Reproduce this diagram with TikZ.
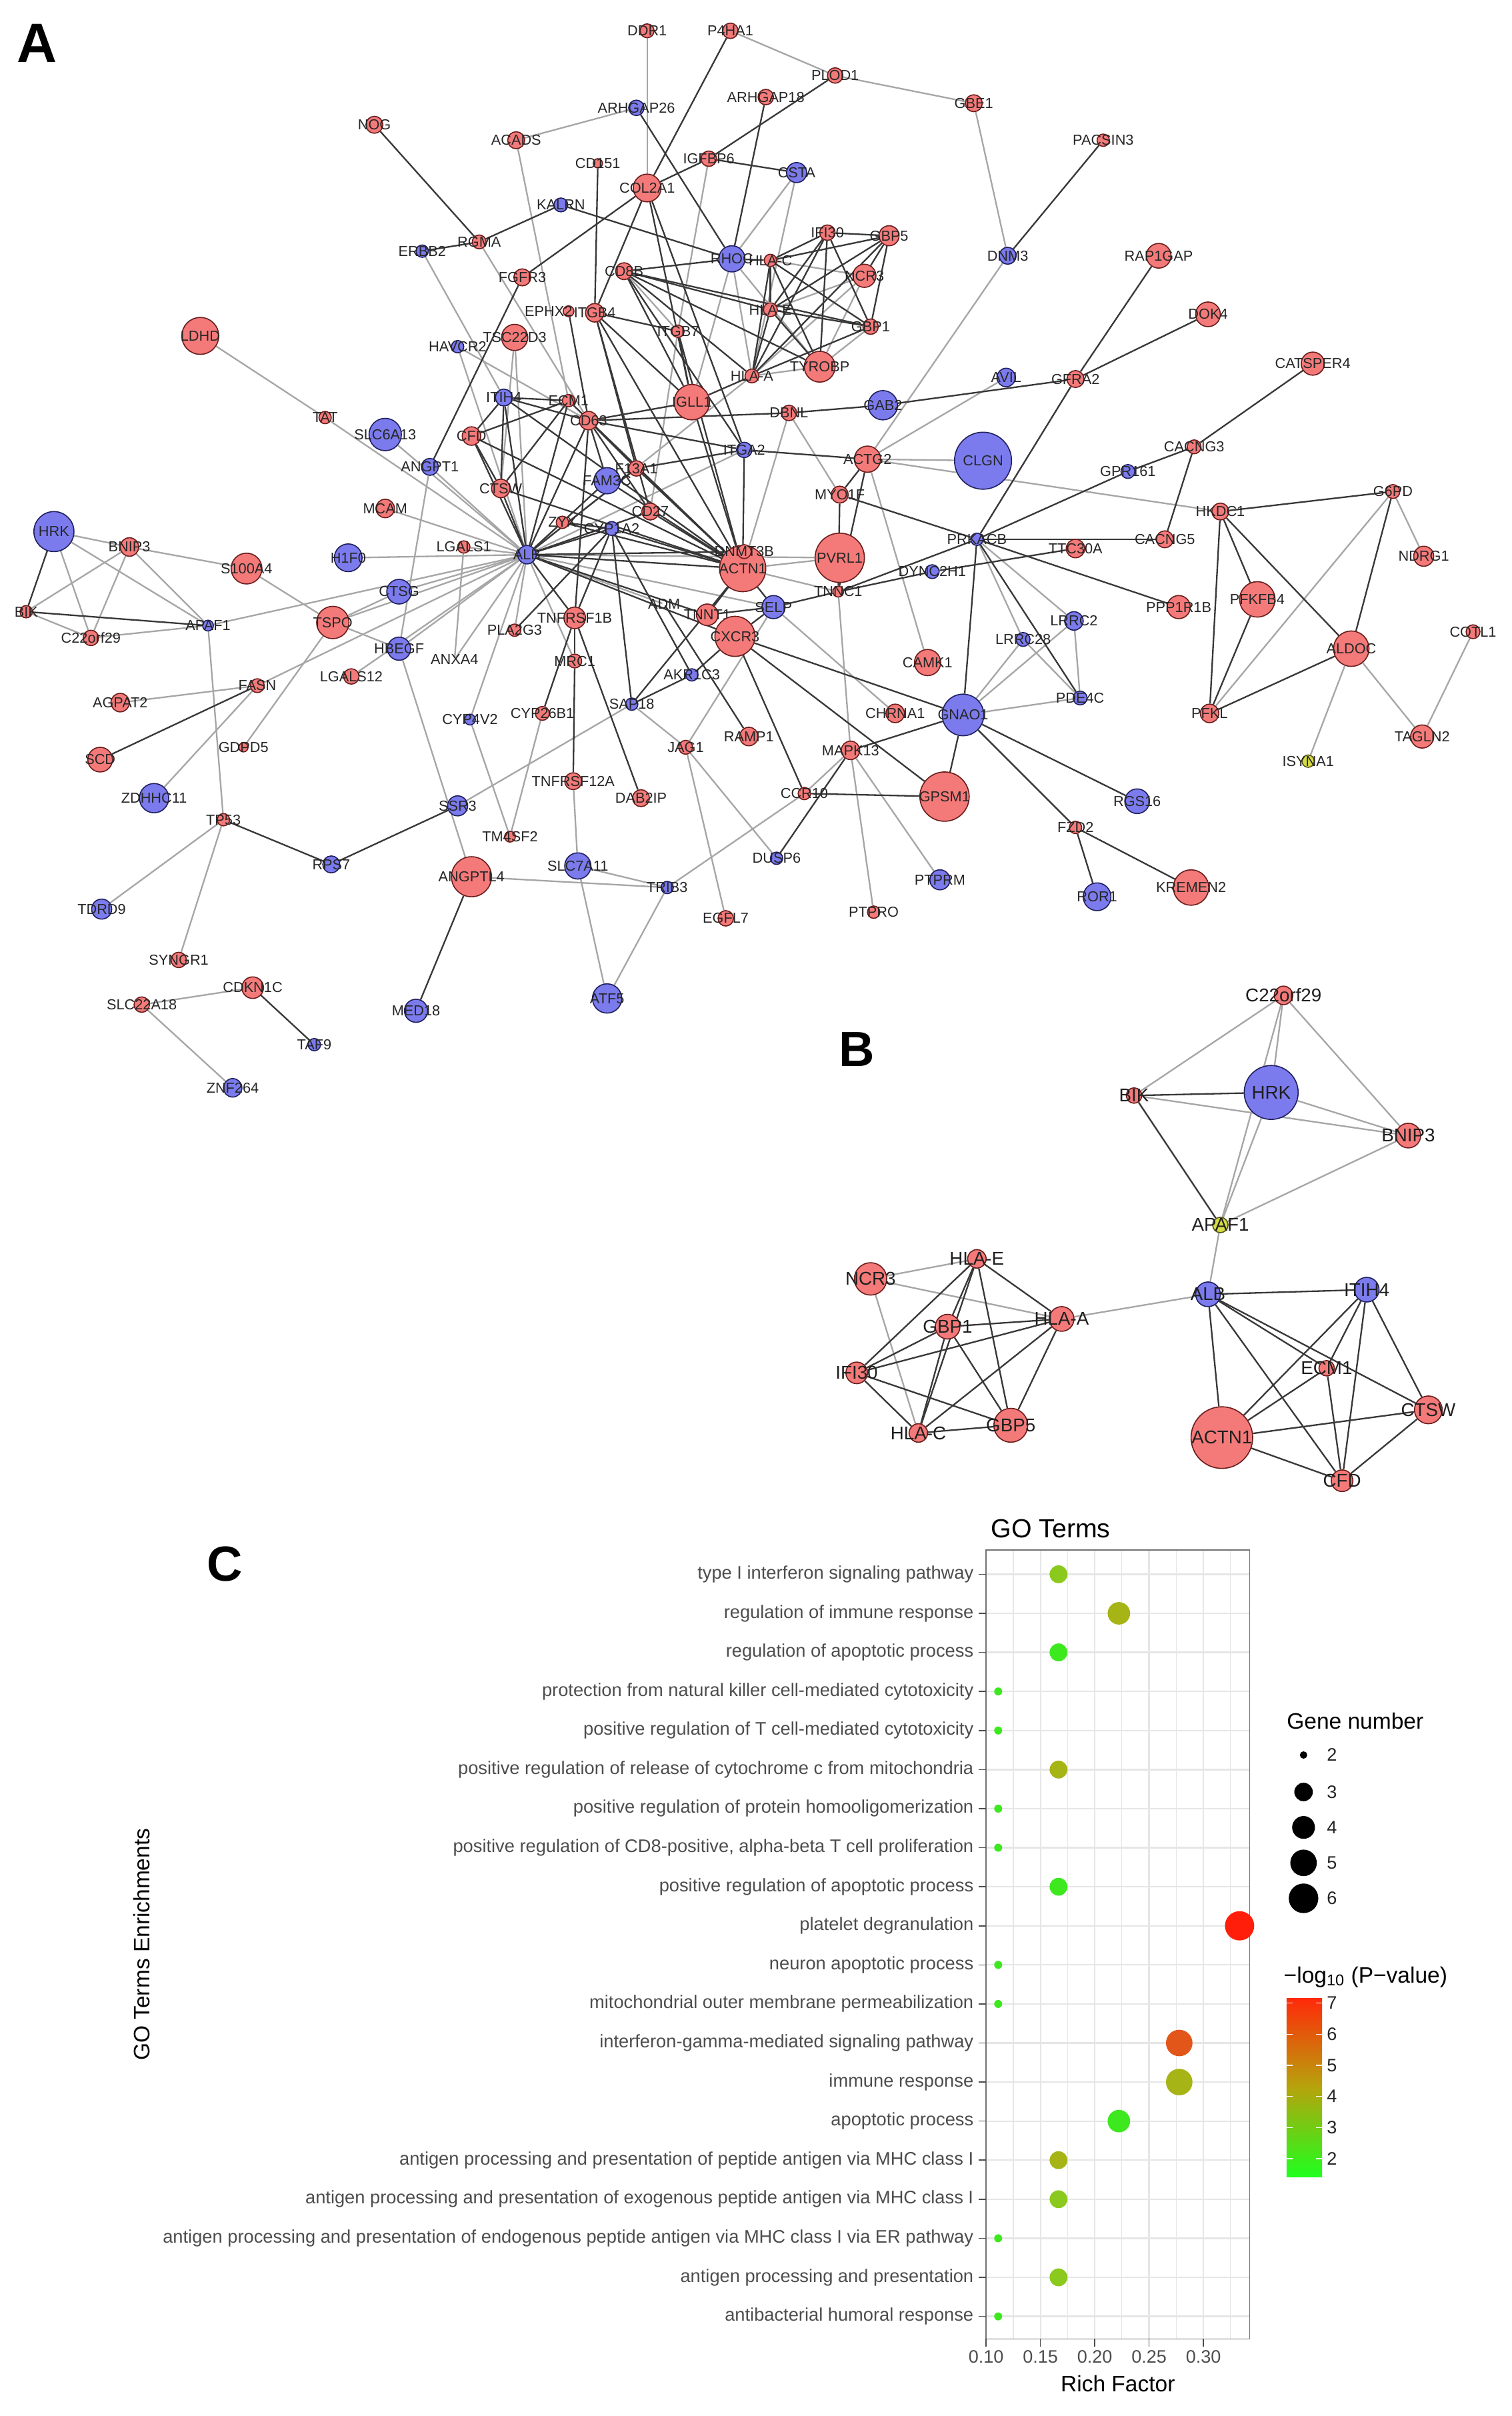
\documentclass[tikz,border=0pt]{standalone}
\usepackage{fontspec}
\setmainfont{Liberation Sans}
\usepackage{tikz}
\definecolor{genered}{HTML}{F47A7A}
\definecolor{generedline}{HTML}{6B1D1D}
\definecolor{geneblue}{HTML}{7B7BEE}
\definecolor{genebluel}{HTML}{20205E}
\definecolor{geneyellow}{HTML}{D6DC44}
\definecolor{geneyellowline}{HTML}{55551A}
\definecolor{edgedark}{HTML}{383838}
\definecolor{edgelight}{HTML}{A6A6A6}
\definecolor{gridgray}{HTML}{E6E6E6}
\definecolor{axisgray}{HTML}{4D4D4D}
\definecolor{pv2}{HTML}{3DE81F}
\definecolor{pv3}{HTML}{8CC91E}
\definecolor{pv4}{HTML}{A6B416}
\definecolor{pv6}{HTML}{E2561A}
\definecolor{pv7}{HTML}{FF1E0A}
\definecolor{barlow}{HTML}{1EFF1E}
\definecolor{barmid}{HTML}{B5A40C}
\definecolor{barhigh}{HTML}{FF2A0A}
\pgfdeclarelayer{edges}
\pgfsetlayers{edges,main}

\begin{document}
\begin{tikzpicture}[x=1pt, y=-1pt,
    gene/.style={circle, inner sep=0pt, line width=0.7pt},
    redgene/.style={gene, draw=generedline, fill=genered},
    bluegene/.style={gene, draw=genebluel, fill=geneblue},
    yellowgene/.style={gene, draw=geneyellowline, fill=geneyellow},
    hidgene/.style={circle, inner sep=0pt},
    genelabel/.style={font=\fontsize{9.4}{10}\selectfont, text=black!85, inner sep=0pt},
    bgenelabel/.style={font=\fontsize{12}{13}\selectfont, text=black!88, inner sep=0pt},
    darkedge/.style={draw=edgedark, line width=1pt},
    lightedge/.style={draw=edgelight, line width=1pt},
    panelletter/.style={font=\bfseries\fontsize{36}{40}\selectfont, inner sep=0pt},
    termlabel/.style={font=\fontsize{11.8}{13}\selectfont, text=axisgray, inner sep=0pt},
    ticklabel/.style={font=\fontsize{11.7}{13}\selectfont, text=axisgray, inner sep=0pt},
    axistitle/.style={font=\fontsize{14.5}{16}\selectfont, inner sep=0pt},
    gridmajor/.style={draw=gridgray, line width=1pt},
    gridminor/.style={draw=gridgray, line width=0.5pt},
]
\useasboundingbox (0,0) rectangle (981,1568);

% ---------------- panel A: network ----------------
\node[panelletter] (letterA) at (24,28) {A};
\foreach \gid/\gx/\gy/\gd/\gs/\glab in {
  ddr1/420/20/9/redgene/DDR1, p4ha1/474/20/10/redgene/P4HA1, plod1/542/49/10/redgene/PLOD1,
  gbe1/632/67/11/redgene/GBE1, pacsin3/716/91/8/redgene/PACSIN3, arhgap26/413/70/10/bluegene/ARHGAP26,
  arhgap18/497/63/10/redgene/ARHGAP18, nog/243/81/11/redgene/NOG, acads/335/91/11/redgene/ACADS,
  cd151/388/106/6/redgene/CD151, igfbp6/460/103/10/redgene/IGFBP6, csta/517/112/13/bluegene/CSTA,
  col2a1/420/122/18/redgene/COL2A1, kalrn/364/133/9/bluegene/KALRN, rgma/311/157/9/redgene/RGMA,
  erbb2/274/163/8/bluegene/ERBB2, fgfr3/339/180/11/redgene/FGFR3, rhoc/475/168/17/bluegene/RHOC,
  hlac/500/169/8/redgene/HLA-C, ifi30/537/151/10/redgene/IFI30, gbp5/577/153/13/redgene/GBP5,
  ncr3/561/179/15/redgene/NCR3, cd8b/405/176/11/redgene/CD8B,
  itgb4/386/203/12/redgene/ITGB4, hlae/500/201/9/redgene/HLA-E, gbp1/565/212/10/redgene/GBP1,
  itgb7/440/215/8/redgene/ITGB7, tsc22d3/334/219/17/redgene/TSC22D3, havcr2/297/225/8/bluegene/HAVCR2,
  tyrobp/532/238/20/redgene/TYROBP, hlaa/488/244/9/redgene/HLA-A, itih4/327/258/11/bluegene/ITIH4,
  ecm1/369/260/8/redgene/ECM1, igll1/449/261/23/redgene/IGLL1, gab2/573/263/19/bluegene/GAB2,
  dbnl/512/268/10/redgene/DBNL, cd63/382/273/12/redgene/CD63, cfd/306/283/12/redgene/CFD,
  ctsw/325/317/12/redgene/CTSW, fam3c/394/312/17/bluegene/FAM3C, f13a1/413/304/10/redgene/F13A1,
  cd27/422/332/11/redgene/CD27, zyx/365/339/8/redgene/ZYX, cyp1a2/397/343/9/bluegene/CYP1A2,
  itga2/483/292/10/bluegene/ITGA2, alb/342/360/12/bluegene/ALB, actn1/482/369/30/redgene/ACTN1,
  dnmt3b/483/358/9/redgene/DNMT3B, pvrl1/545/362/32/redgene/PVRL1, myo1f/545/321/11/redgene/MYO1F,
  actg2/563/298/17/redgene/ACTG2, tnnc1/544/384/7/redgene/TNNC1, selp/502/394/15/bluegene/SELP,
  tnnt1/459/399/14/redgene/TNNT1, cxcr3/477/413/26/redgene/CXCR3, tnfrsf1b/373/401/14/redgene/TNFRSF1B,
  pla2g3/334/409/8/redgene/PLA2G3, mrc1/373/429/9/redgene/MRC1, anxa4/295/428/2/hidgene/ANXA4,
  akr1c3/449/438/8/bluegene/AKR1C3, adm/431/392/2/hidgene/ADM, ldhd/130/218/24/redgene/LDHD,
  tat/211/271/8/redgene/TAT, slc6a13/250/282/21/bluegene/SLC6A13, angpt1/279/303/11/bluegene/ANGPT1,
  mcam/250/330/12/redgene/MCAM, hrk/35/345/26/bluegene/HRK, bnip3/84/355/12/redgene/BNIP3,
  lgals1/301/355/8/redgene/LGALS1, h1f0/226/362/18/bluegene/H1F0, s100a4/160/369/20/redgene/S100A4,
  ctsg/259/384/16/bluegene/CTSG, bik/17/397/8/redgene/BIK, apaf1/135/406/7/bluegene/APAF1,
  tspo/216/404/21/redgene/TSPO, c22orf29/59/414/10/redgene/C22orf29, hbegf/259/421/15/bluegene/HBEGF,
  lgals12/228/439/10/redgene/LGALS12, fasn/167/445/9/redgene/FASN, agpat2/78/456/12/redgene/AGPAT2,
  cyp4v2/305/467/7/bluegene/CYP4V2, gdpd5/158/485/6/redgene/GDPD5, scd/65/493/16/redgene/SCD,
  zdhhc11/100/518/19/bluegene/ZDHHC11, tp53/145/532/8/redgene/TP53, ssr3/297/523/13/bluegene/SSR3,
  sap18/410/457/8/bluegene/SAP18, cyp26b1/352/463/9/redgene/CYP26B1, chrna1/581/463/12/redgene/CHRNA1,
  ramp1/486/478/12/redgene/RAMP1, jag1/445/485/9/redgene/JAG1, mapk13/552/487/12/redgene/MAPK13,
  tnfrsf12a/372/507/11/redgene/TNFRSF12A, dab2ip/416/518/11/redgene/DAB2IP, ccr10/522/515/8/redgene/CCR10,
  tm4sf2/331/543/7/redgene/TM4SF2, dusp6/504/557/8/bluegene/DUSP6, angptl4/306/569/26/redgene/ANGPTL4,
  slc7a11/375/562/17/bluegene/SLC7A11, trib3/433/576/8/bluegene/TRIB3, egfl7/471/596/10/redgene/EGFL7,
  ptpro/567/592/8/redgene/PTPRO, rps7/215/561/11/bluegene/RPS7, tdrd9/66/590/13/bluegene/TDRD9,
  syngr1/116/623/10/redgene/SYNGR1, cdkn1c/164/641/14/redgene/CDKN1C, slc22a18/92/652/10/redgene/SLC22A18,
  med18/270/656/15/bluegene/MED18, atf5/394/648/19/bluegene/ATF5, taf9/204/678/8/bluegene/TAF9,
  znf264/151/706/12/bluegene/ZNF264, dnm3/654/166/11/bluegene/DNM3, rap1gap/752/166/16/redgene/RAP1GAP,
  dok4/784/204/16/redgene/DOK4, catsper4/852/236/15/redgene/CATSPER4, avil/653/245/12/bluegene/AVIL,
  gfra2/698/246/11/redgene/GFRA2, cacng3/775/290/9/redgene/CACNG3, clgn/638/299/37/bluegene/CLGN,
  gpr161/732/306/9/bluegene/GPR161, g6pd/904/319/9/redgene/G6PD, hkdc1/792/332/11/redgene/HKDC1,
  prkacb/634/350/8/bluegene/PRKACB, cacng5/756/350/11/redgene/CACNG5, ttc30a/698/356/12/redgene/TTC30A,
  ndrg1/924/361/13/redgene/NDRG1, dync2h1/605/371/9/bluegene/DYNC2H1, pfkfb4/816/389/23/redgene/PFKFB4,
  ppp1r1b/765/394/15/redgene/PPP1R1B, lrrc2/697/403/12/bluegene/LRRC2, lrrc28/664/415/9/bluegene/LRRC28,
  cotl1/956/410/9/redgene/COTL1, aldoc/877/421/23/redgene/ALDOC, camk1/602/430/17/redgene/CAMK1,
  pde4c/701/453/9/bluegene/PDE4C, pfkl/785/463/12/redgene/PFKL, gnao1/625/464/27/bluegene/GNAO1,
  tagln2/923/478/15/redgene/TAGLN2, isyna1/849/494/8/yellowgene/ISYNA1, gpsm1/613/517/32/redgene/GPSM1,
  rgs16/738/520/16/bluegene/RGS16, fzd2/698/537/8/redgene/FZD2, ptprm/610/571/13/bluegene/PTPRM,
  ror1/712/582/18/bluegene/ROR1, kremen2/773/576/23/redgene/KREMEN2}
  \node[\gs, minimum size=\gd pt, label={[genelabel]center:\glab}] (\gid) at (\gx,\gy) {};
% EPHX2 sits right beside ITGB4: its label is nudged left
\node[redgene, minimum size=7pt, label={[genelabel, xshift=-13pt]center:EPHX2}] (ephx2) at (369,202) {};

% ---------------- panel B: sub-network ----------------
\node[panelletter, font=\bfseries\fontsize{32}{36}\selectfont] (letterB) at (556,681) {B};
\foreach \gid/\gx/\gy/\gd/\gs/\glab in {
  bc22/833/646/12/redgene/C22orf29, bbik/736/711/10/redgene/BIK, bhrk/825/709/35/bluegene/HRK,
  bbnip3/914/737/16/redgene/BNIP3, bapaf1/792/795/10/yellowgene/APAF1, bhlae/634/817/12/redgene/HLA-E,
  bncr3/565/830/21/redgene/NCR3, balb/784/840/16/bluegene/ALB, bitih4/887/837/16/bluegene/ITIH4,
  bhlaa/689/856/16/redgene/HLA-A, bgbp1/615/861/16/redgene/GBP1, bifi30/556/891/14/redgene/IFI30,
  becm1/861/888/10/redgene/ECM1, bctsw/927/915/18/redgene/CTSW, bhlac/596/930/12/redgene/HLA-C,
  bgbp5/656/925/22/redgene/GBP5, bactn1/793/933/40/redgene/ACTN1, bcfd/871/961/14/redgene/CFD}
  \node[\gs, minimum size=\gd pt, label={[bgenelabel]center:\glab}] (\gid) at (\gx,\gy) {};

% connectors, kept under the nodes
\begin{pgfonlayer}{edges}
\fill[white] (0,0) rectangle (981,1568);
\foreach \ea/\eb in {
  ddr1/col2a1, arhgap26/acads, p4ha1/plod1, plod1/gbe1, gbe1/dnm3, dnm3/actg2, igfbp6/itgb7,
  csta/rhoc, csta/hlaa, acads/ecm1, erbb2/itih4, havcr2/cd63, havcr2/alb, ldhd/tat, tat/alb,
  slc6a13/alb, angpt1/hbegf, angpt1/alb, tsc22d3/alb, tsc22d3/ctsw, rgma/cd63,
  rhoc/igll1, rhoc/tyrobp, rhoc/hlaa, cd8b/itgb7, hlac/ncr3, ncr3/hlae, ncr3/hlaa, ncr3/tyrobp,
  gbp1/tyrobp, hlaa/tyrobp, hlaa/alb, itgb7/cd27,
  hrk/bnip3, hrk/c22orf29, hrk/apaf1, bnip3/bik, bnip3/c22orf29, bnip3/apaf1, bnip3/s100a4,
  bik/c22orf29, c22orf29/apaf1, apaf1/alb, apaf1/tp53, s100a4/tspo, tspo/ctsg, tspo/hbegf,
  tspo/gdpd5, tspo/alb, ctsg/alb, h1f0/alb, mcam/alb, lgals1/alb, lgals1/anxa4, anxa4/alb,
  lgals12/alb, hbegf/alb, fasn/agpat2, fasn/zdhhc11, fasn/alb, cyp4v2/alb, pla2g3/alb, mrc1/alb,
  zyx/alb, alb/pvrl1, alb/selp, alb/adm, alb/itga2, hbegf/angptl4, ssr3/sap18, tp53/tdrd9,
  tp53/syngr1, cyp26b1/tm4sf2, cyp4v2/tm4sf2, sap18/jag1, jag1/egfl7, jag1/dusp6, jag1/selp,
  ccr10/trib3, mapk13/ccr10, mapk13/ptpro, mapk13/ptprm, mapk13/tnnc1, chrna1/selp,
  slc7a11/tnfrsf12a, slc7a11/trib3, angptl4/trib3, slc7a11/atf5, trib3/atf5,
  actn1/pvrl1, actn1/tnnc1, dbnl/myo1f, dbnl/actn1, actg2/clgn, actg2/hkdc1, actg2/avil,
  actg2/camk1, prkacb/lrrc2, prkacb/lrrc28, gnao1/lrrc28, gnao1/lrrc2, gnao1/pde4c,
  lrrc2/pde4c, lrrc28/pde4c, g6pd/ndrg1, g6pd/pfkl, aldoc/isyna1, aldoc/tagln2, tagln2/cotl1,
  cdkn1c/slc22a18, slc22a18/znf264,
  bc22/bbik, bc22/bhrk, bc22/bbnip3, bc22/bapaf1, bbik/bbnip3, bhrk/bbnip3, bhrk/bapaf1,
  bbnip3/bapaf1, bapaf1/balb, balb/bhlaa, bncr3/bhlae, bncr3/bhlaa, bncr3/bhlac}
  \draw[lightedge] (\ea) -- (\eb);
\foreach \ea/\eb in {
  arhgap26/rhoc, p4ha1/col2a1, plod1/igfbp6, igfbp6/col2a1, igfbp6/csta, arhgap18/rhoc,
  pacsin3/dnm3, nog/rgma, erbb2/rgma, rgma/kalrn, kalrn/rhoc, cd151/itgb4, col2a1/fgfr3,
  col2a1/itgb4, col2a1/igll1, col2a1/itga2, fgfr3/angpt1, rhoc/cd8b, rhoc/hlac, cd8b/hlae,
  cd8b/gbp1, cd8b/igll1, cd8b/hlaa, cd8b/itga2, cd8b/tyrobp,
  hlac/ifi30, hlac/gbp5, hlac/hlae, hlac/gbp1, hlac/hlaa, hlac/tyrobp,
  ifi30/gbp5, ifi30/hlae, ifi30/hlaa, ifi30/gbp1, ifi30/tyrobp,
  gbp5/hlae, gbp5/hlaa, gbp5/gbp1, gbp5/ncr3, hlae/hlaa, hlae/gbp1, hlae/tyrobp, gbp1/hlaa,
  hlaa/igll1, itgb4/itgb7, itgb4/igll1, itgb4/actn1, itgb4/cd27, itgb4/f13a1, ephx2/cd63,
  itgb7/igll1, itgb7/actn1,
  itih4/ecm1, itih4/cfd, itih4/ctsw, itih4/alb, itih4/actn1, itih4/cd63,
  ecm1/cfd, ecm1/ctsw, ecm1/alb, ecm1/actn1, cfd/ctsw, cfd/alb, cfd/actn1, ctsw/alb, ctsw/actn1,
  cd63/dbnl, cd63/igll1, cd63/f13a1, cd63/fam3c, cd63/cd27, cd63/alb, cd63/actn1, cd63/tnfrsf1b,
  dbnl/gab2, itga2/f13a1, itga2/actn1, itga2/actg2, itga2/cd63,
  f13a1/alb, f13a1/actn1, fam3c/alb, fam3c/actn1, cd27/actn1, cd27/alb,
  zyx/cyp1a2, zyx/actn1, cyp1a2/alb, cyp1a2/actn1, cyp1a2/tnfrsf1b, cyp1a2/pla2g3,
  cyp1a2/akr1c3, cyp1a2/sap18, alb/actn1, alb/dnmt3b, alb/tnfrsf1b, alb/cxcr3, alb/tnnt1,
  actn1/dnmt3b, actn1/tnnt1, actn1/selp, igll1/actn1,
  tnnc1/selp, tnnc1/dync2h1, tnnc1/actg2, tnnc1/prkacb, tnnc1/myo1f,
  selp/cxcr3, selp/tnnt1, cxcr3/gnao1, cxcr3/gpsm1, cxcr3/ccr10, cxcr3/akr1c3,
  myo1f/prkacb, myo1f/actg2, cyp26b1/tnfrsf1b, tnfrsf1b/mrc1, mrc1/tnfrsf12a,
  dab2ip/tnfrsf1b, sap18/akr1c3, sap18/actn1, ramp1/adm, ccr10/gpsm1,
  mapk13/dusp6, mapk13/gnao1, angptl4/med18, tp53/rps7, rps7/ssr3, fasn/scd,
  hrk/bik, bik/apaf1, gfra2/rap1gap, gfra2/dok4, gfra2/gab2, gfra2/prkacb,
  catsper4/cacng3, cacng3/cacng5, gpr161/prkacb, cacng3/gpr161,
  prkacb/cacng5, prkacb/ppp1r1b, prkacb/pde4c, prkacb/gnao1, ttc30a/dync2h1,
  gnao1/gpsm1, gnao1/rgs16, gnao1/fzd2, fzd2/kremen2, fzd2/ror1,
  hkdc1/g6pd, hkdc1/pfkfb4, hkdc1/pfkl, hkdc1/aldoc, g6pd/aldoc, pfkfb4/pfkl, pfkl/aldoc,
  cdkn1c/taf9,
  bbik/bhrk, bbik/bapaf1, bhlae/bgbp1, bhlae/bhlaa, bhlae/bifi30, bhlae/bhlac, bhlae/bgbp5,
  bgbp1/bhlaa, bgbp1/bifi30, bgbp1/bhlac, bgbp1/bgbp5, bhlaa/bifi30, bhlaa/bhlac, bhlaa/bgbp5,
  bifi30/bhlac, bifi30/bgbp5, bhlac/bgbp5, balb/bitih4, balb/bactn1, balb/bctsw, balb/bcfd,
  balb/becm1, bitih4/becm1, bitih4/bactn1, bitih4/bctsw, bitih4/bcfd, becm1/bactn1,
  becm1/bcfd, bactn1/bctsw, bactn1/bcfd, bctsw/bcfd}
  \draw[darkedge] (\ea) -- (\eb);
\end{pgfonlayer}

% ---------------- panel C: GO dot plot ----------------
\node[panelletter, font=\bfseries\fontsize{32}{36}\selectfont] (letterC) at (146,1015) {C};
\node[font=\fontsize{17}{19}\selectfont, anchor=west, inner sep=0pt] (gotitle) at (643,992) {GO Terms};
% grid
\foreach \gv in {0.125,0.175,0.225,0.275,0.325}
  \draw[gridminor] ({640+705*(\gv-0.1)},1006) -- ++(0,512);
\foreach \gv in {0.10,0.15,0.20,0.25,0.30}
  \draw[gridmajor] ({640+705*(\gv-0.1)},1006) -- ++(0,512);
\foreach \ti in {1,...,20}
  \draw[gridmajor] (640,{1021.7+25.35*(\ti-1)}) -- (811,{1021.7+25.35*(\ti-1)});
\draw[black!55, line width=0.8pt] (640,1006) rectangle (811,1518);
% x axis
\foreach \gv/\gt in {0.10/0.10,0.15/0.15,0.20/0.20,0.25/0.25,0.30/0.30} {
  \draw[axisgray, line width=0.7pt] ({640+705*(\gv-0.1)},1518) -- ++(0,5);
  \node[ticklabel, anchor=north] (xt\gt) at ({640+705*(\gv-0.1)},1525) {\gt};
}
\node[axistitle] (xtitle) at (725.5,1547) {Rich Factor};
\node[axistitle, rotate=90] (ytitle) at (92,1262) {GO Terms Enrichments};
% terms and dots
\foreach \ti/\gn/\gr/\gc/\tname in {
  1/3/5.8/pv3/{type I interferon signaling pathway},
  2/4/7.3/pv4/{regulation of immune response},
  3/3/5.8/pv2/{regulation of apoptotic process},
  4/2/2.6/pv2/{protection from natural killer cell-mediated cytotoxicity},
  5/2/2.6/pv2/{positive regulation of T cell-mediated cytotoxicity},
  6/3/5.8/pv4/{positive regulation of release of cytochrome c from mitochondria},
  7/2/2.6/pv2/{positive regulation of protein homooligomerization},
  8/2/2.6/pv2/{positive regulation of CD8-positive, alpha-beta T cell proliferation},
  9/3/5.8/pv2/{positive regulation of apoptotic process},
  10/6/9.5/pv7/{platelet degranulation},
  11/2/2.6/pv2/{neuron apoptotic process},
  12/2/2.6/pv2/{mitochondrial outer membrane permeabilization},
  13/5/8.6/pv6/{interferon-gamma-mediated signaling pathway},
  14/5/8.6/pv4/{immune response},
  15/4/7.3/pv2/{apoptotic process},
  16/3/5.8/pv4/{antigen processing and presentation of peptide antigen via MHC class I},
  17/3/5.8/pv3/{antigen processing and presentation of exogenous peptide antigen via MHC class I},
  18/2/2.6/pv2/{antigen processing and presentation of endogenous peptide antigen via MHC class I via ER pathway},
  19/3/5.8/pv3/{antigen processing and presentation},
  20/2/2.6/pv2/{antibacterial humoral response}} {
  \pgfmathsetmacro\ty{1021.7+25.35*(\ti-1)}
  \pgfmathsetmacro\tx{640+705*(\gn/18-0.1)}
  \draw[axisgray, line width=0.7pt] (635,\ty) -- (640,\ty);
  \node[termlabel, anchor=east] (term\ti) at (632,\ty) {\tname};
  \fill[\gc] (\tx,\ty) circle (\gr);
}
% legend: gene number
\node[axistitle, anchor=west] (sizetitle) at (835,1117) {Gene number};
\foreach \gn/\gy/\gr in {2/1139/2.4, 3/1163/6, 4/1186/7.4, 5/1209/8.6, 6/1232/9.6} {
  \fill[black] (846,\gy) circle (\gr);
  \node[ticklabel, text=black!85, anchor=west] (size\gn) at (861,\gy) {\gn};
}
% legend: colour bar
\node[axistitle, anchor=west] (coltitle) at (833,1283) {−log\textsubscript{10} (P−value)};
\shade[top color=barhigh, bottom color=barlow, middle color=barmid] (835,1297) rectangle (858,1413);
\foreach \gv in {2,...,7} {
  \pgfmathsetmacro\cy{1401-20.2*(\gv-2)}
  \draw[white, line width=0.6pt] (835,\cy) -- ++(4,0) (858,\cy) -- ++(-4,0);
  \node[ticklabel, text=black!85, anchor=west] (bar\gv) at (861,\cy) {\gv};
}
\end{tikzpicture}
\end{document}
